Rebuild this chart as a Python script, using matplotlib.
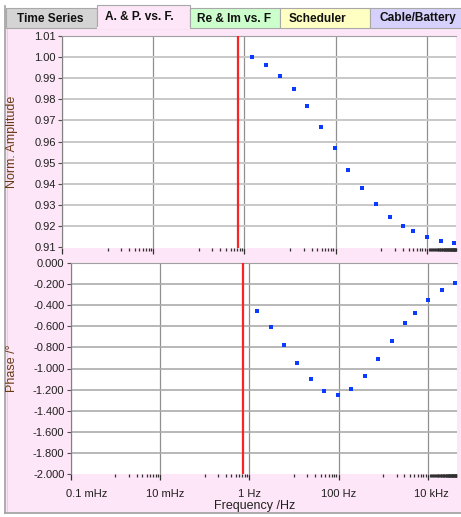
import matplotlib
matplotlib.use('Agg')
import matplotlib.pyplot as plt
import numpy as np
from matplotlib.patches import Rectangle
from matplotlib.lines import Line2D
from matplotlib.transforms import ScaledTranslation
from matplotlib.ticker import FixedLocator, FixedFormatter, NullFormatter

plt.rcParams['font.family'] = ['Liberation Sans', 'DejaVu Sans']

# ---- data ----
tab_names = ["Time Series", "A. & P. vs. F.", "Re & Im vs. F", "Scheduler", "Cable/Battery"]
freq = [1.5, 3.0, 6.0, 12, 24, 48, 96, 192, 385, 770, 1550, 3050, 5050, 10100, 20300, 40500]
amp = [1.000, 0.9963, 0.9910, 0.9846, 0.9766, 0.9668, 0.9570, 0.9467,
       0.9380, 0.9305, 0.9244, 0.9200, 0.9178, 0.9151, 0.9131, 0.9120]
phase = [-0.458, -0.603, -0.773, -0.945, -1.100, -1.213, -1.251, -1.197,
         -1.075, -0.914, -0.742, -0.572, -0.474, -0.351, -0.260, -0.191]
marker_freq = 0.72
x_tick_vals = [1e-4, 1e-2, 1e0, 1e2, 1e4]
x_tick_labels = ["0.1 mHz", "10 mHz", "1 Hz", "100 Hz", "10 kHz"]
amp_ticks = [0.91, 0.92, 0.93, 0.94, 0.95, 0.96, 0.97, 0.98, 0.99, 1.00, 1.01]
phase_ticks = [0.0, -0.2, -0.4, -0.6, -0.8, -1.0, -1.2, -1.4, -1.6, -1.8, -2.0]

W, H = 461, 517
fig = plt.figure(figsize=(W / 100, H / 100), dpi=100)
fig.patch.set_facecolor('white')

def fx(x):
    return x / W

def fy(y):
    return 1 - y / H

PINK = '#fde6f7'

# panel background
fig.patches.append(Rectangle((fx(5), fy(513)), fx(461 - 5), (513 - 28) / H,
                             transform=fig.transFigure, facecolor=PINK,
                             edgecolor='none', zorder=-5))
# outer border lines
fig.add_artist(Line2D([fx(4.5), fx(4.5)], [fy(6), fy(513)], transform=fig.transFigure,
                      color='#a0a0a0', lw=1.2, zorder=-4))
fig.add_artist(Line2D([fx(7), fx(7)], [fy(28), fy(511)], transform=fig.transFigure,
                      color='#d8d8d8', lw=0.8, zorder=-4))
fig.add_artist(Line2D([fx(4.5), fx(461)], [fy(513), fy(513)], transform=fig.transFigure,
                      color='#a0a0a0', lw=1.2, zorder=-4))

# tabs
tab_x = [6, 97, 190, 280, 370, 463]
tab_text_x = [17, 105, 197, 289, 379]
tab_colors = ['#d4d4d4', PINK, '#ccffcc', '#ffffc4', '#d6d0fc']
for i, name in enumerate(tab_names):
    x0, x1 = tab_x[i], tab_x[i + 1]
    top = 5 if i == 1 else 8
    fig.patches.append(Rectangle((fx(x0), fy(28)), fx(x1 - x0), (28 - top) / H,
                                 transform=fig.transFigure, facecolor=tab_colors[i],
                                 edgecolor='#a8a8a8', lw=0.8, zorder=-3))
    ty = 16.5 if i == 1 else 18.5
    fig.text(fx(tab_text_x[i]), fy(ty), name, ha='left', va='center',
             fontsize=8.6, fontweight='bold', color='#101010', zorder=2)
# cover bottom edge of selected tab
fig.add_artist(Line2D([fx(97.6), fx(189.4)], [fy(28), fy(28)], transform=fig.transFigure,
                      color=PINK, lw=1.5, zorder=-2))

# ---- axes ----
top_l, top_r, top_t, top_b = 62, 456, 35.5, 247.5
bot_l, bot_r, bot_t, bot_b = 70.7, 456.5, 263, 474

ax1 = fig.add_axes([fx(top_l), fy(top_b), fx(top_r - top_l), (top_b - top_t) / H])
ax2 = fig.add_axes([fx(bot_l), fy(bot_b), fx(bot_r - bot_l), (bot_b - bot_t) / H])

minor_vals = []
for e in [-3, -1, 1, 3]:
    for m in range(1, 10):
        minor_vals.append(m * 10.0 ** e)
minor_vals += list(np.arange(1.1e4, 4.4e4, 700))

for ax in (ax1, ax2):
    ax.set_facecolor('white')
    ax.set_xscale('log')
    ax.set_xlim(1e-4, 4.4e4)
    for s in ['right', 'bottom']:
        ax.spines[s].set_visible(False)
    ax.spines['left'].set_color('#808080')
    ax.spines['top'].set_color('#a0a0a0')
    ax.xaxis.set_major_locator(FixedLocator(x_tick_vals))
    ax.xaxis.set_minor_locator(FixedLocator(minor_vals))
    ax.xaxis.set_minor_formatter(NullFormatter())
    ax.tick_params(axis='x', which='major', direction='out', length=4, width=0.9,
                   color='#303030', pad=7, labelsize=8, labelcolor='#202020')
    ax.tick_params(axis='x', which='minor', direction='out', length=2.5, width=0.9,
                   color='#303030')
    ax.tick_params(axis='y', direction='out', length=3, width=0.8, color='#505050',
                   labelsize=8, labelcolor='#202020', pad=1.5)
    for v in x_tick_vals:
        ax.axvline(v, color='#909090', lw=0.9, zorder=1)
    ax.axvline(marker_freq, color='#ff2222', lw=1.6, zorder=3)

# top: amplitude
ax1.set_ylim(0.91, 1.01)
ax1.set_yticks(amp_ticks)
ax1.set_yticklabels(['%.2f' % v for v in amp_ticks])
for v in amp_ticks[1:-1]:
    ax1.axhline(v, color='#c8c8c8', lw=1.4, zorder=1)
ax1.xaxis.set_major_formatter(NullFormatter())
ax1.plot(freq, amp, linestyle='none', marker='s', markersize=3.2,
         color='#0a3cff', markeredgewidth=0, zorder=4)
ax1.set_ylabel('Norm. Amplitude', fontsize=9, color='#6a3a14')
ax1.yaxis.set_label_coords((18 - top_l) / (top_r - top_l), 0.5)

# bottom: phase
ax2.set_ylim(-2.0, 0.0)
ax2.set_yticks(phase_ticks)
ax2.set_yticklabels(['%.3f' % v for v in phase_ticks])
for v in phase_ticks[1:-1]:
    ax2.axhline(v, color='#ababab', lw=1.2, zorder=1)
ax2.set_xticklabels(x_tick_labels)
ax2.plot(freq, phase, linestyle='none', marker='s', markersize=3.2,
         color='#0a3cff', markeredgewidth=0, zorder=4)
ax2.set_ylabel('Phase /°', fontsize=9, color='#6a3a14')
ax2.yaxis.set_label_coords((18 - bot_l) / (bot_r - bot_l), 0.5)
lbls = ax2.get_xticklabels()
offs = [16, 5, 0, 0, 4]
for lb, o in zip(lbls, offs):
    lb.set_transform(lb.get_transform() + ScaledTranslation(o / 100, 0, fig.dpi_scale_trans))

fig.text(fx(255), fy(506), 'Frequency /Hz', ha='center', va='center',
         fontsize=9, color='#202020')

fig.savefig('out.png', dpi=100, facecolor='white')
